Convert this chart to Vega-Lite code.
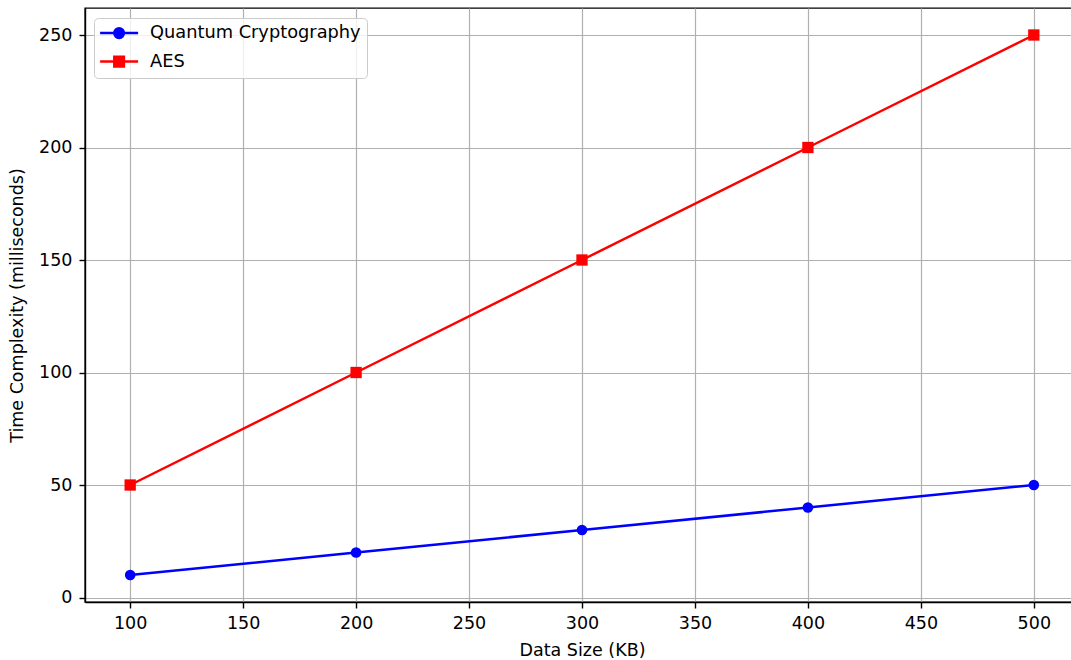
{
  "$schema": "https://vega.github.io/schema/vega-lite/v6.json",
  "width": 994,
  "height": 594,
  "autosize": {"type": "none"},
  "padding": {"left": 85, "top": 8, "right": 0, "bottom": 58},
  "background": "white",
  "config": {
    "font": "DejaVu Sans",
    "view": {"stroke": "black", "strokeWidth": 1.4},
    "axis": {
      "labelFont": "DejaVu Sans",
      "titleFont": "DejaVu Sans",
      "labelFontSize": 17.5,
      "titleFontSize": 17.5,
      "titleFontWeight": "normal",
      "labelColor": "black",
      "titleColor": "black",
      "domainColor": "black",
      "domainWidth": 1.4,
      "tickColor": "black",
      "tickWidth": 1.4,
      "tickSize": 6,
      "gridColor": "#b0b0b0",
      "gridWidth": 1.2,
      "grid": true
    },
    "legend": {
      "labelFont": "DejaVu Sans",
      "labelFontSize": 17.8,
      "labelColor": "black"
    }
  },
  "data": {
    "values": [
      {"size": 100, "time": 10, "method": "Quantum Cryptography"},
      {"size": 200, "time": 20, "method": "Quantum Cryptography"},
      {"size": 300, "time": 30, "method": "Quantum Cryptography"},
      {"size": 400, "time": 40, "method": "Quantum Cryptography"},
      {"size": 500, "time": 50, "method": "Quantum Cryptography"},
      {"size": 100, "time": 50, "method": "AES"},
      {"size": 200, "time": 100, "method": "AES"},
      {"size": 300, "time": 150, "method": "AES"},
      {"size": 400, "time": 200, "method": "AES"},
      {"size": 500, "time": 250, "method": "AES"}
    ]
  },
  "encoding": {
    "x": {
      "field": "size",
      "type": "quantitative",
      "scale": {"domain": [80, 520], "nice": false, "zero": false},
      "axis": {
        "title": "Data Size (KB)",
        "values": [100, 150, 200, 250, 300, 350, 400, 450, 500],
        "labelPadding": 6,
        "titlePadding": 10
      }
    },
    "y": {
      "field": "time",
      "type": "quantitative",
      "scale": {"domain": [-2, 262], "nice": false, "zero": false},
      "axis": {
        "title": "Time Complexity (milliseconds)",
        "values": [0, 50, 100, 150, 200, 250],
        "labelPadding": 7,
        "titlePadding": 12
      }
    },
    "color": {
      "field": "method",
      "type": "nominal",
      "scale": {"domain": ["Quantum Cryptography", "AES"], "range": ["#0000ff", "#ff0000"]},
      "legend": null
    }
  },
  "layer": [
    {
      "mark": {"type": "line", "strokeWidth": 2.5},
      "encoding": {
        "color": {
          "field": "method",
          "type": "nominal",
          "scale": {"domain": ["Quantum Cryptography", "AES"], "range": ["#0000ff", "#ff0000"]},
          "legend": {
            "title": null,
            "orient": "none",
            "legendX": 9,
            "legendY": 10,
            "padding": 6.2,
            "rowPadding": 8.5,
            "symbolSize": 100,
            "symbolOffset": 10,
            "labelOffset": 22,
            "fillColor": "rgba(255,255,255,0.8)",
            "strokeColor": "#cccccc",
            "cornerRadius": 4,
            "symbolStrokeWidth": 2.5,
            "labelLimit": 400,
            "encode": {
              "symbols": {
                "update": {
                  "shape": [
                    {"test": "datum.value === 'AES'", "value": "M-3.8,0H3.8M-0.96,-0.96H0.96V0.96H-0.96Z"},
                    {"value": "M-3.8,0H3.8M-0.96,0A0.96,0.96,0,1,0,0.96,0A0.96,0.96,0,1,0,-0.96,0Z"}
                  ],
                  "fill": {"scale": "color", "field": "value"},
                  "stroke": {"scale": "color", "field": "value"},
                  "fillOpacity": {"value": 1},
                  "strokeOpacity": {"value": 1},
                  "strokeWidth": {"value": 2.5}
                }
              }
            }
          }
        }
      }
    },
    {
      "transform": [{"filter": "datum.method === 'Quantum Cryptography'"}],
      "mark": {"type": "point", "filled": true, "opacity": 1, "shape": "circle", "size": 113}
    },
    {
      "transform": [{"filter": "datum.method === 'AES'"}],
      "mark": {"type": "point", "filled": true, "opacity": 1, "shape": "square", "size": 128}
    }
  ]
}
